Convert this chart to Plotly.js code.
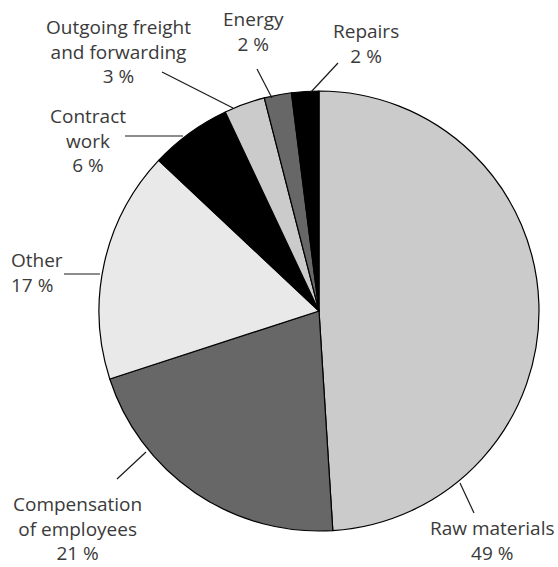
<!DOCTYPE html>
<html>
<head>
<meta charset="utf-8">
<script src="https://cdn.plot.ly/plotly-3.0.1.min.js"></script>
<style>html,body{margin:0;padding:0;background:#fff;}#chart{width:558px;height:567px;}</style>
</head>
<body>
<div id="chart"></div>
<script>
// ---- data ----
const categories = ['Raw materials', 'Compensation of employees', 'Other', 'Contract work',
  'Outgoing freight and forwarding', 'Energy', 'Repairs'];
const shares = [49, 21, 17, 6, 3, 2, 2];
const labelNames = ['Raw materials', 'Compensation<br>of employees', 'Other', 'Contract<br>work',
  'Outgoing freight<br>and forwarding', 'Energy', 'Repairs'];
const sliceColors = ['#cbcbcb', '#676767', '#e9e9e9', '#000000', '#cbcbcb', '#676767', '#000000'];

// ---- layout config (pixel positions) ----
const W = 558, H = 567;
const pieCenter = {x: 319, y: 311}, pieR = 220;
// label anchor (pixel), alignment, leader line [outer x, outer y, inner x, inner y]
const labelPos = [
  {x: 492, y: 540, xa: 'center', al: 'center', line: [474, 513, 460, 483]},
  {x: 78, y: 528, xa: 'center', al: 'center', line: [117, 479, 146, 452]},
  {x: 9, y: 273, xa: 'left', al: 'left', line: [64, 274, 100, 274]},
  {x: 88, y: 141, xa: 'center', al: 'center', line: [125, 136, 183, 136]},
  {x: 118, y: 51, xa: 'center', al: 'center', line: [162, 72, 233, 108]},
  {x: 253, y: 31, xa: 'center', al: 'center', line: [257, 69, 272, 98]},
  {x: 366, y: 43, xa: 'center', al: 'center', line: [338, 63, 311, 92]}
];

const px = v => v / W;
const py = v => 1 - v / H;

const trace = {
  type: 'pie',
  labels: categories,
  values: shares,
  sort: false,
  direction: 'clockwise',
  rotation: 0,
  textinfo: 'none',
  hoverinfo: 'none',
  marker: {colors: sliceColors, line: {color: '#000', width: 1.2}},
  domain: {
    x: [px(pieCenter.x - pieR), px(pieCenter.x + pieR)],
    y: [py(pieCenter.y + pieR), py(pieCenter.y - pieR)]
  },
  showlegend: false
};

const annotations = categories.map((c, i) => ({
  xref: 'paper', yref: 'paper',
  x: px(labelPos[i].x), y: py(labelPos[i].y),
  xanchor: labelPos[i].xa, yanchor: 'middle', align: labelPos[i].al,
  text: labelNames[i] + '<br>' + shares[i] + ' %',
  showarrow: false,
  font: {family: 'Open Sans, Noto Sans, sans-serif', size: 19, color: '#3a3a3a'}
}));

const shapes = labelPos.map(p => ({
  type: 'line', xref: 'paper', yref: 'paper',
  x0: px(p.line[0]), y0: py(p.line[1]), x1: px(p.line[2]), y1: py(p.line[3]),
  line: {color: '#1a1a1a', width: 1.2}
}));

const layout = {
  width: W, height: H,
  margin: {l: 0, r: 0, t: 0, b: 0},
  paper_bgcolor: '#fff', plot_bgcolor: '#fff',
  annotations: annotations,
  shapes: shapes,
  showlegend: false
};

Plotly.newPlot('chart', [trace], layout, {displayModeBar: false, staticPlot: true});
</script>
</body>
</html>
